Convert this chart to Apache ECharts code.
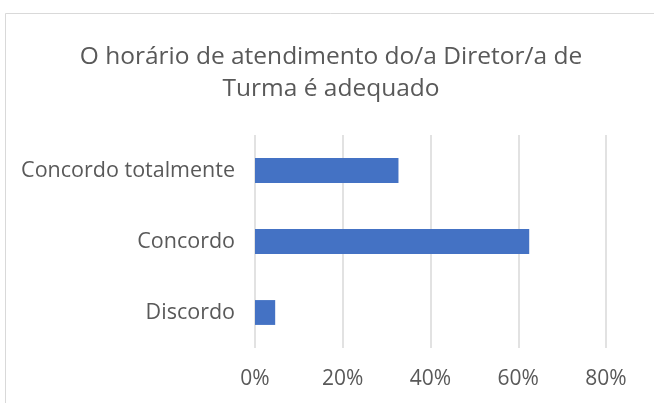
<!DOCTYPE html>
<html>
<head>
<meta charset="utf-8">
<script src="https://cdn.jsdelivr.net/npm/echarts@6/dist/echarts.min.js"></script>
<style>
  html, body { margin: 0; padding: 0; background: #fff; }
  #chart { width: 654px; height: 403px; }
</style>
</head>
<body>
<div id="chart"></div>
<script>
// Survey answers, bottom to top
const categories = ['Discordo', 'Concordo', 'Concordo totalmente'];
const percentages = [4.6, 62.5, 32.7];
const tickValues = [0, 20, 40, 60, 80];

const titleLines = ['O horário de atendimento do/a Diretor/a de', 'Turma é adequado'];
const fontFamily = '"Open Sans", "Noto Sans", sans-serif';
const textColor = '#595959';

const chart = echarts.init(document.getElementById('chart'), null, { renderer: 'canvas' });

chart.setOption({
  animation: false,
  backgroundColor: '#ffffff',
  graphic: [{
    type: 'rect',
    shape: { x: 5.5, y: 13.5, width: 700, height: 500 },
    style: { fill: 'none', stroke: '#d9d9d9', lineWidth: 1 },
    silent: true
  }],
  title: {
    text: titleLines.join('\n'),
    left: 326,
    top: 36,
    textAlign: 'center',
    textStyle: {
      fontFamily: fontFamily,
      fontSize: 24.5,
      fontWeight: 'normal',
      color: textColor,
      lineHeight: 32
    }
  },
  grid: { left: 255, right: 48, top: 135, bottom: 55, containLabel: false },
  xAxis: {
    type: 'value',
    min: tickValues[0],
    max: tickValues[tickValues.length - 1],
    interval: tickValues[1] - tickValues[0],
    axisLine: { show: false },
    axisTick: { show: false },
    splitLine: { show: true, lineStyle: { color: '#d9d9d9', width: 1.5 } },
    axisLabel: {
      margin: 21,
      formatter: '{value}%',
      fontFamily: fontFamily,
      fontSize: 21,
      color: textColor
    }
  },
  yAxis: {
    type: 'category',
    data: categories,
    axisLine: { show: false },
    axisTick: { show: false },
    axisLabel: {
      margin: 20,
      fontFamily: fontFamily,
      fontSize: 21.5,
      color: textColor
    }
  },
  series: [{
    type: 'bar',
    data: percentages,
    barWidth: '35%',
    itemStyle: { color: '#4472c4' }
  }]
});
</script>
</body>
</html>
